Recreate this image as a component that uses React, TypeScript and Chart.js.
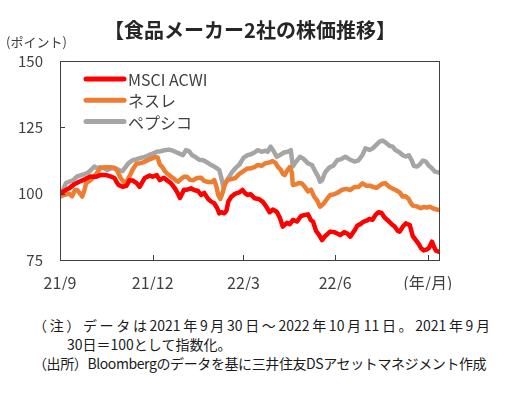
import React, { useEffect, useRef } from "react";
import { Chart, registerables } from "chart.js";

Chart.register(...registerables);

const FONT = "'Noto Sans CJK JP', 'Noto Sans', sans-serif";

const titleText = "【食品メーカー2社の株価推移】";
const yAxisTitle = "(ポイント)";
const seriesNames = ["MSCI ACWI", "ネスレ", "ペプシコ"];
const seriesColors = ["#FF0000", "#ED7D31", "#A5A5A5"];

// x values: calendar days since 2021-09-30
const acwiDays = [0, 4, 9, 14, 19, 25, 30, 36, 40, 46, 50, 54, 56, 58, 62, 66, 69, 72, 76, 79, 84, 89, 92, 96, 99, 103, 106, 110, 114, 117, 119, 123, 126, 130, 133, 137, 140, 143, 147, 150, 153, 156, 158, 160, 163, 165, 167, 170, 174, 178, 181, 184, 186, 189, 193, 197, 201, 204, 208, 211, 215, 218, 221, 225, 228, 231, 235, 239, 243, 246, 249, 251, 254, 257, 260, 263, 266, 268, 272, 275, 278, 282, 285, 288, 292, 295, 298, 301, 304, 307, 310, 313, 316, 319, 322, 325, 329, 332, 335, 337, 340, 343, 347, 350, 353, 356, 358, 361, 364, 366, 369, 371, 373, 376];
const acwiValues = [100, 101, 102, 103.5, 104.5, 105.5, 106.5, 106.4, 107, 107, 106.5, 105.9, 104.5, 103.3, 102.6, 103, 105.1, 105, 104, 102.6, 105.9, 106.8, 106.4, 107, 105.1, 106, 105.1, 104, 102, 100, 98.4, 101.5, 101.5, 102, 101.4, 101, 99.5, 100.3, 98, 97, 96.4, 94.5, 92.6, 93, 92.6, 93.5, 97, 98.9, 100, 100.5, 101.4, 100, 99.5, 99.8, 98.3, 98, 97, 95.5, 93, 94, 93.2, 91, 87.6, 89, 88.5, 90.1, 89.5, 91.5, 92, 92.2, 90, 89.5, 86, 84.5, 82.5, 84, 85, 85.7, 85.5, 85, 84.4, 85.5, 85, 83.8, 86, 88, 88.5, 89.4, 89.8, 90.5, 90.1, 92, 93, 92.7, 91, 90, 88.5, 87.6, 86, 85.7, 87.5, 88.8, 88.2, 84, 82.5, 81, 79.5, 78.6, 79, 79.5, 81.9, 80, 78.5, 78.1];

const nestleDays = [0, 4, 9, 12, 15, 17, 20, 22, 24, 26, 30, 34, 37, 40, 45, 50, 54, 57, 60, 63, 66, 69, 72, 76, 80, 84, 88, 92, 95, 97, 99, 101, 104, 106, 110, 114, 117, 120, 123, 126, 129, 132, 136, 140, 143, 146, 150, 153, 155, 157, 159, 161, 164, 166, 170, 174, 178, 182, 186, 189, 193, 196, 200, 204, 208, 211, 214, 216, 219, 221, 223, 225, 228, 230, 231, 234, 237, 240, 243, 246, 249, 252, 255, 258, 261, 265, 268, 272, 276, 280, 284, 288, 292, 296, 300, 304, 308, 310, 314, 317, 320, 323, 327, 330, 333, 337, 340, 343, 346, 348, 350, 354, 358, 361, 364, 367, 371, 376];
const nestleValues = [98.9, 99.5, 100, 99, 101.4, 101.4, 100, 98.9, 101, 104, 105, 106.5, 108, 109.6, 110, 110, 109.8, 108.5, 106, 104.5, 104.5, 106.5, 109, 111.4, 111.5, 112, 112.8, 113.4, 113.9, 113.5, 111, 110.2, 108.5, 107.7, 106.5, 105.3, 104.5, 105.5, 106.4, 106.4, 105.2, 105.1, 105.9, 106, 104.8, 104.5, 104.3, 105.1, 103, 99.5, 98, 100, 104, 105.1, 105.5, 105.9, 107.5, 108.5, 109.5, 109.5, 110, 110.8, 110.5, 111.5, 111.8, 112.3, 111.5, 110.2, 109, 107.5, 107, 108.5, 110, 108, 103.3, 103.5, 104, 103.8, 102.5, 100.8, 101.5, 99, 97.5, 95.1, 96, 98, 99.5, 99.8, 100.5, 101.5, 101.8, 101.4, 102.5, 102.5, 103.9, 103, 103, 102.6, 102.2, 103, 103.8, 103.9, 102.5, 101.9, 101.4, 100.5, 98.9, 99, 98, 96.5, 95.5, 95.2, 94.5, 95, 94.8, 95.1, 94.3, 93.8];

const pepsiDays = [0, 3, 6, 9, 13, 17, 21, 25, 28, 31, 34, 37, 40, 43, 47, 51, 55, 59, 62, 65, 68, 72, 76, 80, 84, 88, 92, 96, 100, 104, 108, 112, 116, 119, 122, 125, 128, 131, 134, 138, 142, 145, 149, 153, 156, 158, 160, 162, 165, 168, 171, 174, 178, 182, 186, 189, 193, 196, 200, 204, 206, 209, 212, 215, 218, 222, 226, 229, 231, 234, 238, 242, 246, 250, 253, 256, 258, 260, 263, 267, 271, 275, 279, 283, 287, 292, 296, 300, 303, 307, 310, 314, 317, 320, 323, 327, 330, 333, 337, 340, 343, 346, 349, 351, 354, 357, 360, 363, 366, 369, 372, 376];
const pepsiValues = [100.3, 101.5, 104, 104.5, 105, 106.5, 107, 107.5, 108, 109, 110.2, 109.6, 110, 109.7, 108.9, 109.6, 109.6, 108.8, 108.5, 110, 111.5, 112.6, 113, 113.5, 113.8, 114.5, 115.1, 115.8, 116, 116.4, 116.6, 116.2, 115.5, 115, 114.5, 116.4, 116, 114.5, 113.9, 112.8, 112.6, 112, 111, 110.2, 109.5, 108.9, 106, 102.6, 104.5, 106.5, 108.3, 109.6, 111, 113.5, 114.5, 114.8, 115.5, 116.4, 115.8, 116.2, 115.8, 117.7, 116, 113.9, 114.5, 115.5, 115.8, 116.4, 110.2, 112, 113.9, 113, 111.4, 110.8, 108.5, 106.5, 104.5, 105.1, 108, 109.8, 110.5, 112.6, 113, 113.9, 113, 112.1, 112.5, 114.5, 117.1, 116.5, 117, 118.5, 119.6, 120, 119.3, 118, 117.7, 116.4, 115.5, 114.5, 114, 114.5, 112.5, 110.5, 110.2, 111, 112.5, 112.1, 110.5, 109.6, 108.3, 108];

const xTickDays = [0, 92, 182, 273, 365];
const xTickLabels = ["21/9", "21/12", "22/3", "22/6", "(年/月)"];
const yTickValues = [75, 100, 125, 150];

const noteLine1 = "（注）データは2021年9月30日～2022年10月11日。2021年9月";
const noteLine2 = "30日＝100として指数化。";
const noteLine3 = "（出所）Bloombergのデータを基に三井住友DSアセットマネジメント作成";

const AXIS_COLOR = "#404040";

const framePlugin = {
  id: "frameAndLegend",
  afterDraw(chart: any) {
    const { ctx, chartArea: a, scales } = chart;
    ctx.save();
    ctx.strokeStyle = AXIS_COLOR;
    ctx.lineWidth = 1;
    ctx.strokeRect(Math.round(a.left) + 0.5, Math.round(a.top) + 0.5, Math.round(a.right - a.left), Math.round(a.bottom - a.top));
    ctx.beginPath();
    yTickValues.forEach((v) => {
      const y = Math.round(scales.y.getPixelForValue(v)) + 0.5;
      ctx.moveTo(a.left, y);
      ctx.lineTo(a.left + 5, y);
    });
    xTickDays.forEach((d) => {
      const x = Math.round(scales.x.getPixelForValue(d)) + 0.5;
      ctx.moveTo(x, a.bottom);
      ctx.lineTo(x, a.bottom - 5);
    });
    ctx.stroke();

    // legend inside plot area
    ctx.font = `16px ${FONT}`;
    ctx.textBaseline = "middle";
    ctx.textAlign = "left";
    seriesNames.forEach((name, i) => {
      const y = a.top + 18 + i * 21.3;
      ctx.strokeStyle = seriesColors[i];
      ctx.lineWidth = 5;
      ctx.lineCap = "round";
      ctx.beginPath();
      ctx.moveTo(a.left + 26, y);
      ctx.lineTo(a.left + 64, y);
      ctx.stroke();
      ctx.fillStyle = "#404040";
      ctx.fillText(name, a.left + 68, y + 1);
    });
    ctx.restore();
  },
};

function ChartCanvas() {
  const ref = useRef<HTMLCanvasElement>(null);
  useEffect(() => {
    if (!ref.current) return;
    const mk = (days: number[], vals: number[]) => days.map((d, i) => ({ x: d, y: vals[i] }));
    const allData = [mk(acwiDays, acwiValues), mk(nestleDays, nestleValues), mk(pepsiDays, pepsiValues)];
    const chart = new Chart(ref.current, {
      type: "line",
      data: {
        datasets: seriesNames.map((name, i) => ({
          label: name,
          data: allData[i],
          borderColor: seriesColors[i],
          backgroundColor: seriesColors[i],
          borderWidth: 4.5,
          pointRadius: 0,
          tension: 0,
          borderJoinStyle: "round" as const,
          borderCapStyle: "round" as const,
        })),
      },
      options: {
        animation: false,
        responsive: false,
        layout: { padding: { top: 61, right: 68, left: 0, bottom: 0 } },
        plugins: { legend: { display: false }, tooltip: { enabled: false } },
        scales: {
          x: {
            type: "linear",
            min: 0,
            max: 376,
            afterBuildTicks: (s: any) => {
              s.ticks = xTickDays.map((v) => ({ value: v }));
            },
            afterFit: (s: any) => {
              s.height = 30;
            },
            ticks: {
              autoSkip: false,
              maxRotation: 0,
              padding: 13,
              color: "#404040",
              font: { size: 16, family: FONT },
              callback: (v: any) => {
                const idx = xTickDays.indexOf(Number(v));
                return idx >= 0 ? xTickLabels[idx] : "";
              },
            },
            grid: { display: false, drawTicks: false, tickLength: 0 },
            border: { display: false },
          },
          y: {
            min: 75,
            max: 150,
            afterBuildTicks: (s: any) => {
              s.ticks = yTickValues.map((v) => ({ value: v }));
            },
            afterFit: (s: any) => {
              s.width = 60;
            },
            ticks: {
              padding: 17,
              color: "#404040",
              font: { size: 15, family: FONT },
            },
            grid: { display: false, drawTicks: false, tickLength: 0 },
            border: { display: false },
          },
        },
      },
      plugins: [framePlugin],
    });
    return () => chart.destroy();
  }, []);
  return <canvas ref={ref} width={507} height={290} style={{ position: "absolute", left: 0, top: 0, width: 507, height: 290 }} />;
}

export default function App() {
  return (
    <div style={{ position: "absolute", left: 0, top: 0, width: 507, height: 397, background: "#fff", fontFamily: FONT, overflow: "hidden" }}>
      <ChartCanvas />
      <div style={{ position: "absolute", left: 0, width: 500, top: 17, textAlign: "center", fontSize: 20, fontWeight: "bold", color: "#262626", lineHeight: "26px" }}>{titleText}</div>
      <div style={{ position: "absolute", left: 6, top: 33, fontSize: 13, color: "#404040", lineHeight: "18px" }}>{yAxisTitle}</div>
      <div lang="ja" style={{ position: "absolute", left: 33, top: 316, width: 457, fontSize: 14, color: "#1a1a1a", lineHeight: "19px", textAlign: "justify", textAlignLast: "justify" as any, whiteSpace: "nowrap" }}>{noteLine1}</div>
      <div style={{ position: "absolute", left: 67, top: 335, fontSize: 14, color: "#1a1a1a", lineHeight: "19px", whiteSpace: "nowrap" }}>{noteLine2}</div>
      <div style={{ position: "absolute", left: 33, top: 354, fontSize: 14, color: "#1a1a1a", lineHeight: "19px", whiteSpace: "nowrap", letterSpacing: "-0.4px" }}>{noteLine3}</div>
    </div>
  );
}
